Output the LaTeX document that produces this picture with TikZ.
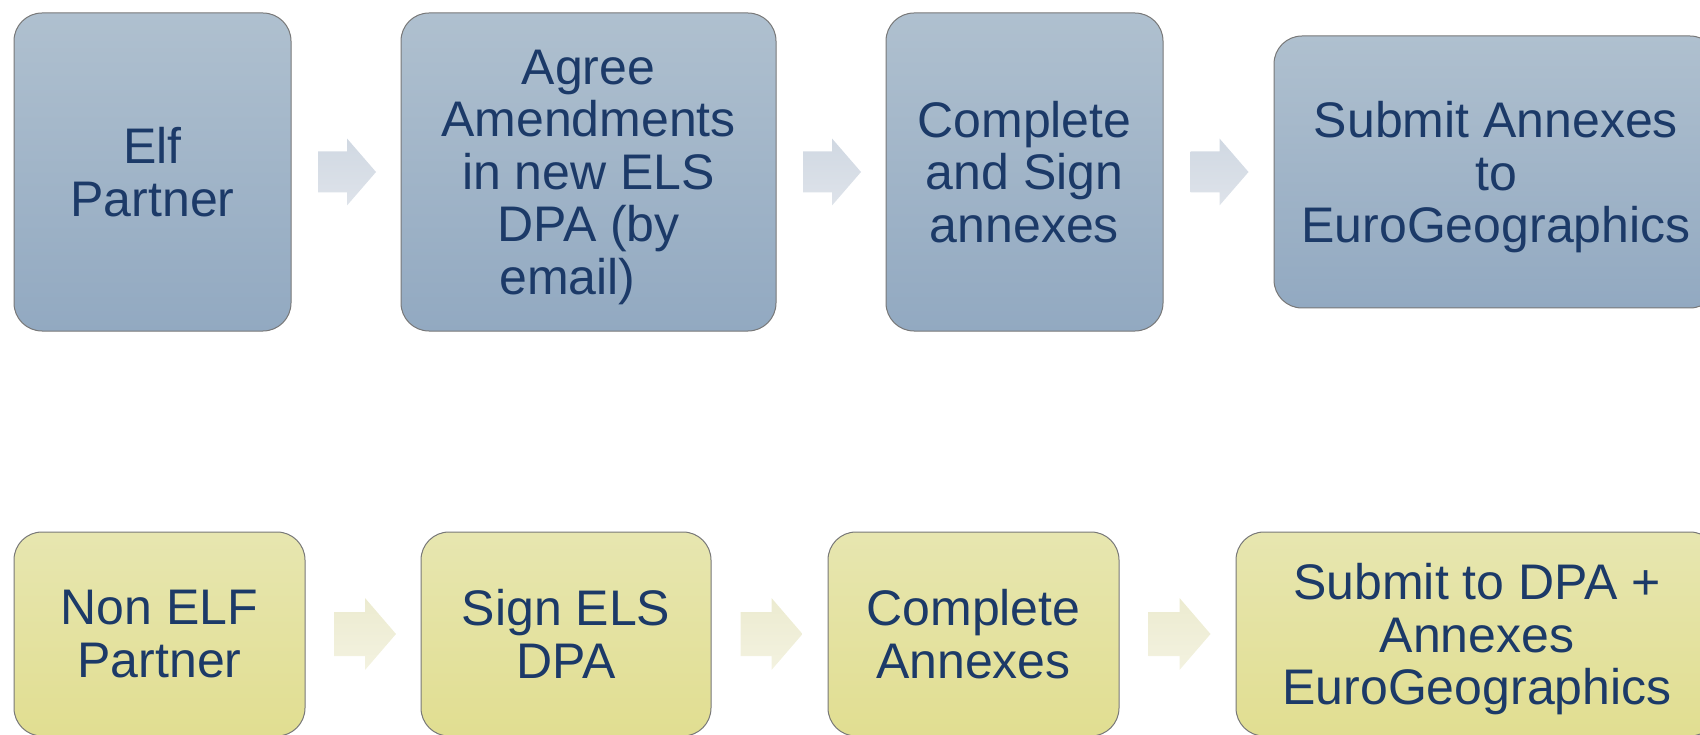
\documentclass[tikz,border=0pt]{standalone}
\usepackage{fontspec}
\setmainfont{Liberation Sans}
\usetikzlibrary{calc}
\definecolor{txt}{RGB}{28,58,104}
\definecolor{boxline}{RGB}{120,120,120}
\definecolor{bluetop}{RGB}{175,192,207}
\definecolor{bluebot}{RGB}{146,169,193}
\definecolor{yeltop}{RGB}{231,230,176}
\definecolor{yelbot}{RGB}{225,222,145}
\definecolor{arrblueA}{RGB}{208,216,226}
\definecolor{arrblueB}{RGB}{222,227,234}
\definecolor{arryelA}{RGB}{236,235,208}
\definecolor{arryelB}{RGB}{243,242,224}
\newcommand\nodp[1]{\raisebox{0pt}[\height][0pt]{#1}}
\begin{document}
\begin{tikzpicture}[x=1pt,y=-1pt,
  box/.style={rectangle, rounded corners=28pt, draw=boxline, line width=1pt,
    inner sep=0pt, align=center, text=txt, font=\fontsize{50}{52.5}\selectfont},
  bluebox/.style={box, top color=bluetop, bottom color=bluebot},
  yelbox/.style={box, top color=yeltop, bottom color=yelbot},
  bluearrow/.style={top color=arrblueA, bottom color=arrblueB, draw=none},
  yelarrow/.style={top color=arryelA, bottom color=arryelB, draw=none}]
\useasboundingbox (0,0) rectangle (1700,735);
% top row
\node[bluebox, minimum width=277pt, minimum height=318pt] (t1) at (152.5,172) {Elf\\Partner};
\node[bluebox, minimum width=375pt, minimum height=318pt] (t2) at (588.5,172) {Agree\\Amendments\\in new ELS\\DPA (by\\\nodp{email)}\hspace*{42pt}};
\node[bluebox, minimum width=277pt, minimum height=318pt] (t3) at (1024.5,172) {Complete\\and Sign\\annexes};
\node[bluebox, minimum width=444pt, minimum height=272pt] (t4) at (1496,172) {Submit Annexes\\to\\\nodp{EuroGeographics}};
% bottom row
\node[yelbox, minimum width=291pt, minimum height=204pt] (b1) at (159.5,634) {Non ELF\\Partner};
\node[yelbox, minimum width=290pt, minimum height=204pt] (b2) at (566,634) {Sign ELS\\DPA};
\node[yelbox, minimum width=291pt, minimum height=204pt] (b3) at (973.5,634) {Complete\\Annexes};
\node[yelbox, minimum width=482pt, minimum height=204pt] (b4) at (1477,634) {Submit to DPA +\\Annexes\\\nodp{EuroGeographics}};
% arrow positions
\coordinate (ta1) at ($(t1.east)!0.5!(t2.west)+(1,0)$);
\coordinate (ta2) at ($(t2.east)!0.5!(t3.west)+(1,0)$);
\coordinate (ta3) at ($(t3.east)!0.5!(t4.west)+(1,0)$);
\coordinate (ba1) at ($(b1.east)!0.5!(b2.west)+(2,0)$);
\coordinate (ba2) at ($(b2.east)!0.5!(b3.west)+(2,0)$);
\coordinate (ba3) at ($(b3.east)!0.5!(b4.west)+(2,0)$);
\foreach \a in {ta1,ta2,ta3}{
  \path[bluearrow, shift={(\a)}] (-29,-20.5) -- (0,-20.5) -- (0,-33.5) -- (29,0)
    -- (0,33.5) -- (0,20.5) -- (-29,20.5) -- cycle;
}
\foreach \a in {ba1,ba2,ba3}{
  \path[yelarrow, shift={(\a)}] (-31,-22) -- (0,-22) -- (0,-36) -- (31,0)
    -- (0,36) -- (0,22) -- (-31,22) -- cycle;
}
\end{tikzpicture}
\end{document}
